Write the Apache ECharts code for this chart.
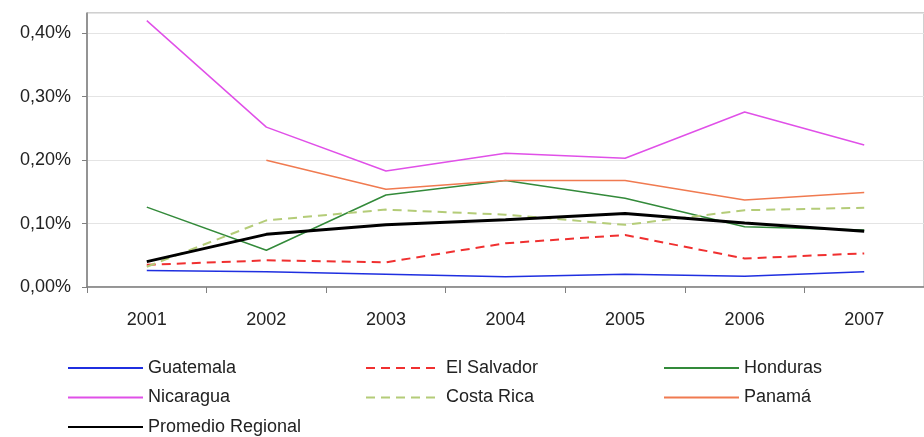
<!DOCTYPE html>
<html>
<head>
<meta charset="utf-8">
<script src="https://cdn.jsdelivr.net/npm/echarts@6/dist/echarts.min.js"></script>
<style>
  html, body { margin: 0; padding: 0; background: #fff; }
  #chart { width: 924px; height: 437px; }
</style>
</head>
<body>
<div id="chart"></div>
<script>
// Years on the category axis
const years = ['2001', '2002', '2003', '2004', '2005', '2006', '2007'];

// Values in percent
const guatemala = [0.026, 0.024, 0.020, 0.016, 0.020, 0.017, 0.024];
const elSalvador = [0.035, 0.042, 0.039, 0.069, 0.082, 0.045, 0.053];
const honduras = [0.126, 0.058, 0.145, 0.168, 0.140, 0.095, 0.090];
const nicaragua = [0.420, 0.252, 0.183, 0.211, 0.203, 0.276, 0.224];
const costaRica = [0.032, 0.105, 0.122, 0.114, 0.098, 0.121, 0.125];
const panama = [null, 0.200, 0.154, 0.168, 0.168, 0.137, 0.149];
const promedio = [0.040, 0.083, 0.098, 0.106, 0.116, 0.101, 0.088];

const fontFam = '"Liberation Sans", Arial, sans-serif';

function lineSeries(name, data, color, width, type) {
  return {
    name: name,
    type: 'line',
    data: data,
    symbol: 'none',
    showSymbol: false,
    connectNulls: false,
    lineStyle: { color: color, width: width, type: type || 'solid' },
    itemStyle: { color: color },
    z: name === 'Promedio Regional' ? 5 : 3
  };
}

// One vertical legend column: plain line swatch followed by the name
function legendColumn(left, names) {
  return {
    orient: 'vertical',
    left: left,
    top: 359,
    padding: 0,
    itemWidth: 75,
    itemHeight: 18,
    itemGap: 11.5,
    selectedMode: false,
    itemStyle: { opacity: 0 },
    textStyle: { fontFamily: fontFam, fontSize: 18, lineHeight: 18, color: '#222' },
    data: names
  };
}

const chart = echarts.init(document.getElementById('chart'));
chart.setOption({
  animation: false,
  backgroundColor: '#ffffff',
  grid: {
    left: 87, right: -4, top: 13, bottom: 150,
    show: true, borderColor: '#a0a0a0', borderWidth: 1
  },
  legend: [
    legendColumn(67, ['Guatemala', 'Nicaragua', 'Promedio Regional']),
    legendColumn(365, ['El Salvador', 'Costa Rica']),
    legendColumn(663, ['Honduras', 'Panamá'])
  ],
  xAxis: {
    type: 'category',
    data: years,
    boundaryGap: true,
    axisLine: { lineStyle: { color: '#808080', width: 1.5 } },
    axisTick: { show: true, length: 6, lineStyle: { color: '#808080' } },
    axisLabel: { fontFamily: fontFam, fontSize: 18, color: '#222', margin: 24 },
    splitLine: { show: false }
  },
  yAxis: {
    type: 'value',
    min: 0,
    max: 0.432,
    interval: 0.1,
    axisLine: { show: true, lineStyle: { color: '#808080', width: 1.5 } },
    axisTick: { show: true, length: 5, lineStyle: { color: '#808080' } },
    axisLabel: {
      fontFamily: fontFam, fontSize: 18, color: '#222', margin: 16,
      showMaxLabel: false,
      formatter: function (v) { return v.toFixed(2).replace('.', ',') + '%'; }
    },
    splitLine: { show: true, lineStyle: { color: '#e4e4e4', width: 1 } }
  },
  series: [
    lineSeries('Guatemala', guatemala, '#1f2fe0', 1.5),
    lineSeries('El Salvador', elSalvador, '#f03030', 2, [9, 6]),
    lineSeries('Honduras', honduras, '#338a3a', 1.5),
    lineSeries('Nicaragua', nicaragua, '#e050e8', 1.5),
    lineSeries('Costa Rica', costaRica, '#b4cc78', 2, [9, 6]),
    lineSeries('Panamá', panama, '#f07a50', 1.5),
    lineSeries('Promedio Regional', promedio, '#000000', 3)
  ]
});
</script>
</body>
</html>
